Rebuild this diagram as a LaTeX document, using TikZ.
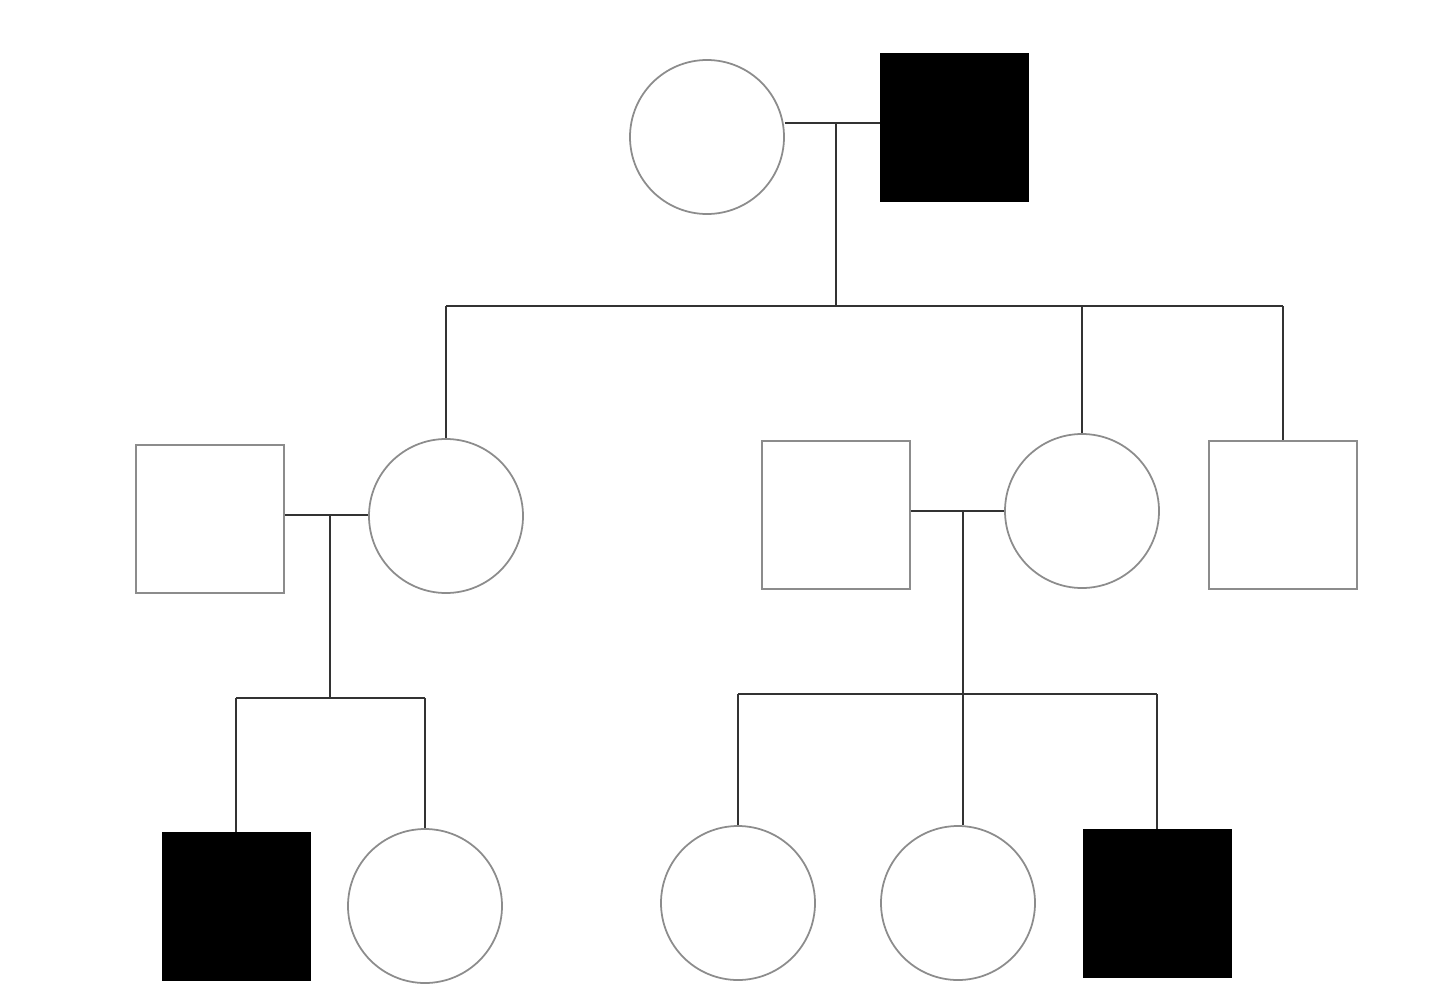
\documentclass[tikz,border=0pt]{standalone}
\begin{document}
\begin{tikzpicture}[x=0.02cm,y=-0.02cm,
  fem/.style={circle,draw=black!45,line width=1pt,minimum size=154*0.02cm,inner sep=0pt},
  mal/.style={rectangle,draw=black!45,line width=1pt,minimum size=148*0.02cm,inner sep=0pt},
  aff/.style={rectangle,fill=black,draw=black,minimum size=148*0.02cm,inner sep=0pt},
  ln/.style={draw=black!80,line width=1.3pt}]
\useasboundingbox (0,0) rectangle (1440,984);
\node[fem] (g1f) at (707,137) {};
\node[aff] (g1m) at (954,127) {};
\node[mal] (h1) at (210,519) {};
\node[fem] (d1) at (446,516) {};
\node[mal] (h2) at (836,515) {};
\node[fem] (d2) at (1082,511) {};
\node[mal] (s1) at (1283,515) {};
\node[aff] (c1) at (236,906) {};
\node[fem] (c2) at (425,906) {};
\node[fem] (c3) at (738,903) {};
\node[fem] (c4) at (958,903) {};
\node[aff] (c5) at (1157,903) {};
\coordinate (m1) at (836,123);
\coordinate (sb1) at (836,306);
\coordinate (m2) at (330,515);
\coordinate (sb2) at (330,698);
\coordinate (m3) at (963,511);
\coordinate (sb3) at (963,694);
\draw[ln] (g1f.east |- m1) -- (g1m.west |- m1);
\draw[ln] (m1) -- (sb1);
\draw[ln] (d1.north |- sb1) -- (s1.north |- sb1);
\draw[ln] (d1.north |- sb1) -- (d1.north);
\draw[ln] (d2.north |- sb1) -- (d2.north);
\draw[ln] (s1.north |- sb1) -- (s1.north);
\draw[ln] (h1.east |- m2) -- (d1.west |- m2);
\draw[ln] (m2) -- (sb2);
\draw[ln] (c1.north |- sb2) -- (c2.north |- sb2);
\draw[ln] (c1.north |- sb2) -- (c1.north);
\draw[ln] (c2.north |- sb2) -- (c2.north);
\draw[ln] (h2.east |- m3) -- (d2.west |- m3);
\draw[ln] (m3) -- (sb3);
\draw[ln] (c3.north |- sb3) -- (c5.north |- sb3);
\draw[ln] (c3.north |- sb3) -- (c3.north);
\draw[ln] (sb3) -- (c4.north -| sb3);
\draw[ln] (c5.north |- sb3) -- (c5.north);
\end{tikzpicture}
\end{document}
